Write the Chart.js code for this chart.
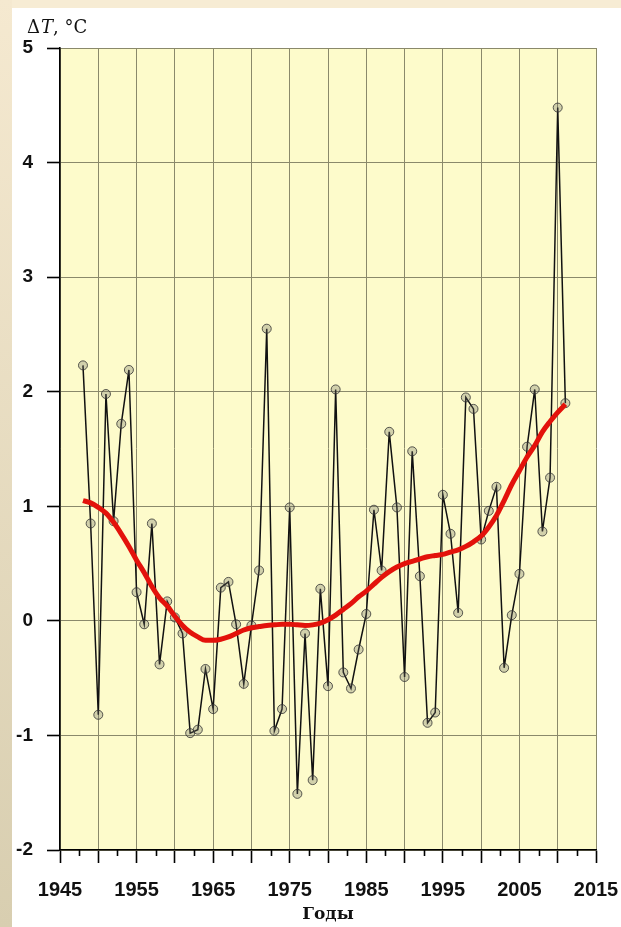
<!DOCTYPE html>
<html>
<head>
<meta charset="utf-8">
<script src="https://cdn.jsdelivr.net/npm/chart.js@4/dist/chart.umd.min.js"></script>
<style>
  html, body { margin: 0; padding: 0; background: #ffffff; }
  #wrap { width: 621px; height: 927px; }
</style>
</head>
<body>
<div id="wrap"><canvas id="c" width="621" height="927"></canvas></div>
<script>
// Years of observation
const years = [
  1948, 1949, 1950, 1951, 1952, 1953, 1954, 1955, 1956, 1957,
  1958, 1959, 1960, 1961, 1962, 1963, 1964, 1965, 1966, 1967,
  1968, 1969, 1970, 1971, 1972, 1973, 1974, 1975, 1976, 1977,
  1978, 1979, 1980, 1981, 1982, 1983, 1984, 1985, 1986, 1987,
  1988, 1989, 1990, 1991, 1992, 1993, 1994, 1995, 1996, 1997,
  1998, 1999, 2000, 2001, 2002, 2003, 2004, 2005, 2006, 2007,
  2008, 2009, 2010, 2011
];

// Annual temperature anomaly, °C
const anomalies = [
  2.23, 0.85, -0.82, 1.98, 0.87, 1.72, 2.19, 0.25, -0.03, 0.85,
  -0.38, 0.17, 0.03, -0.11, -0.98, -0.95, -0.42, -0.77, 0.29, 0.34,
  -0.03, -0.55, -0.04, 0.44, 2.55, -0.96, -0.77, 0.99, -1.51, -0.11,
  -1.39, 0.28, -0.57, 2.02, -0.45, -0.59, -0.25, 0.06, 0.97, 0.44,
  1.65, 0.99, -0.49, 1.48, 0.39, -0.89, -0.80, 1.10, 0.76, 0.07,
  1.95, 1.85, 0.71, 0.96, 1.17, -0.41, 0.05, 0.41, 1.52, 2.02,
  0.78, 1.25, 4.48, 1.90
];

// Smoothed trend, °C
const trend = [
  1.05, 1.03, 0.99, 0.94, 0.86, 0.76, 0.65, 0.53, 0.42, 0.30,
  0.20, 0.13, 0.04, -0.04, -0.10, -0.14, -0.17, -0.17, -0.16, -0.14,
  -0.11, -0.08, -0.06, -0.05, -0.04, -0.035, -0.03, -0.03, -0.035, -0.04,
  -0.035, -0.02, 0.01, 0.05, 0.10, 0.15, 0.21, 0.26, 0.32, 0.38,
  0.43, 0.47, 0.50, 0.52, 0.54, 0.56, 0.57, 0.58, 0.60, 0.62,
  0.65, 0.69, 0.74, 0.82, 0.92, 1.05, 1.19, 1.31, 1.43, 1.53,
  1.65, 1.74, 1.82, 1.89
];

// Axis settings
const xMin = 1945, xMax = 2015, xStep = 5, xLabelStep = 10;
const yMin = -2, yMax = 5, yStep = 1;
const xMinorTicks = [];
for (let v = xMin + xStep / 2; v < xMax; v += xStep) xMinorTicks.push(v);

const xTitle = 'Годы';

const GRID = '#8a896b';
const PLOT_BG = '#fdfbcb';

// Page frame, plot background, minor ticks and the unit caption
const decor = {
  id: 'decor',
  beforeDraw(chart) {
    const ctx = chart.ctx, a = chart.chartArea;
    ctx.save();
    ctx.fillStyle = '#ffffff';
    ctx.fillRect(0, 0, chart.width, chart.height);
    // top band
    ctx.fillStyle = '#f7ecd4';
    ctx.fillRect(0, 0, chart.width, 8);
    // left band
    const g = ctx.createLinearGradient(0, 0, 0, chart.height);
    g.addColorStop(0, '#f5e9d0');
    g.addColorStop(1, '#d8ceb0');
    ctx.fillStyle = g;
    ctx.fillRect(0, 0, 12, chart.height);
    // plot area
    ctx.fillStyle = PLOT_BG;
    ctx.fillRect(a.left, a.top, a.right - a.left, a.bottom - a.top);
    ctx.restore();
  },
  afterDraw(chart) {
    const ctx = chart.ctx, a = chart.chartArea, xs = chart.scales.x;
    ctx.save();
    ctx.strokeStyle = '#000';
    ctx.lineWidth = 1.6;
    xMinorTicks.forEach(v => {
      const px = Math.round(xs.getPixelForValue(v)) + 0.5;
      ctx.beginPath();
      ctx.moveTo(px, a.bottom);
      ctx.lineTo(px, a.bottom + 6);
      ctx.stroke();
    });
    // "ΔT, °C" caption above the value axis
    ctx.fillStyle = '#111';
    ctx.textBaseline = 'alphabetic';
    let x = 27;
    const y = 33;
    ctx.font = '18px "DejaVu Serif"';
    ctx.fillText('Δ', x, y); x += ctx.measureText('Δ').width + 1;
    ctx.font = 'italic 18px "DejaVu Serif"';
    ctx.fillText('T', x, y); x += ctx.measureText('T').width;
    ctx.font = '18px "DejaVu Serif"';
    ctx.fillText(', °C', x, y);
    ctx.restore();
  }
};

Chart.defaults.font.family = '"Liberation Sans", Arial, sans-serif';

new Chart(document.getElementById('c'), {
  type: 'line',
  data: {
    datasets: [
      {
        label: 'trend',
        data: years.map((yr, i) => ({ x: yr, y: trend[i] })),
        borderColor: '#e3120b',
        borderWidth: 5,
        pointRadius: 0,
        cubicInterpolationMode: 'monotone',
        fill: false
      },
      {
        label: 'ΔT',
        data: years.map((yr, i) => ({ x: yr, y: anomalies[i] })),
        borderColor: '#111111',
        borderWidth: 1.5,
        tension: 0,
        pointRadius: 4.5,
        pointBorderWidth: 1,
        pointBorderColor: 'rgba(50,50,50,0.8)',
        pointBackgroundColor: 'rgba(110,110,100,0.3)',
        fill: false
      }
    ]
  },
  options: {
    responsive: false,
    animation: false,
    events: [],
    layout: {
      autoPadding: false,
      padding: { left: 12, top: 48, right: 25, bottom: 0 }
    },
    plugins: {
      legend: { display: false },
      tooltip: { enabled: false },
      title: { display: false }
    },
    scales: {
      x: {
        type: 'linear',
        position: 'bottom',
        min: xMin,
        max: xMax,
        afterFit(s) {
          s.height = 77;
          s.paddingLeft = 0;
          s.paddingRight = 0;
        },
        afterBuildTicks(s) {
          const t = [];
          for (let v = xMin; v <= xMax; v += xStep) t.push({ value: v });
          s.ticks = t;
        },
        ticks: {
          autoSkip: false,
          maxRotation: 0,
          padding: 15,
          color: '#111',
          font: { size: 20, weight: 'bold' },
          callback: v => ((v - xMin) % xLabelStep === 0 ? String(v) : '')
        },
        grid: {
          color: GRID,
          lineWidth: 1,
          tickColor: '#000',
          tickLength: 13,
          tickWidth: 1.6
        },
        border: { display: true, color: '#000', width: 1.6 },
        title: {
          display: true,
          text: xTitle,
          color: '#111',
          font: { family: '"DejaVu Serif", serif', size: 17, weight: 'bold' },
          padding: { top: 0, bottom: 2 }
        }
      },
      y: {
        type: 'linear',
        min: yMin,
        max: yMax,
        afterFit(s) {
          s.width = 48;
          s.paddingTop = 0;
          s.paddingBottom = 0;
        },
        ticks: {
          stepSize: yStep,
          padding: 14,
          color: '#111',
          font: { size: 19, weight: 'bold' }
        },
        grid: {
          color: GRID,
          lineWidth: 1,
          tickColor: '#000',
          tickLength: 13,
          tickWidth: 1.6
        },
        border: { display: true, color: '#000', width: 1.6 }
      }
    }
  },
  plugins: [decor]
});
</script>
</body>
</html>
